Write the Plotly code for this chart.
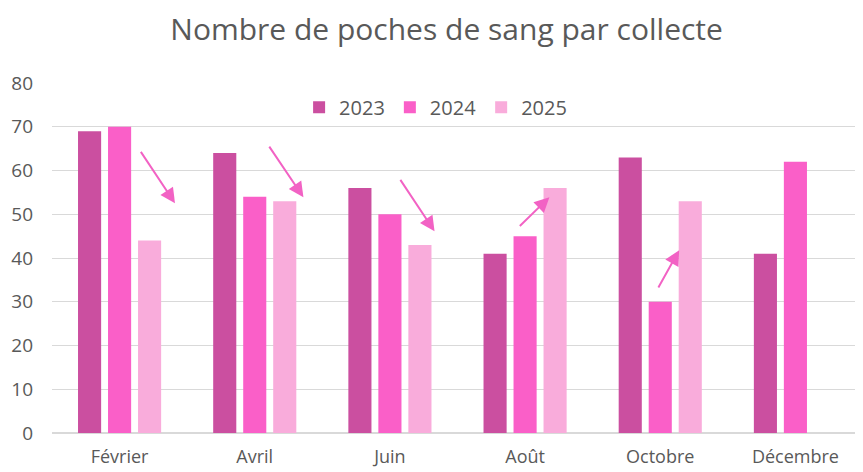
import plotly.graph_objects as go

mois = ["Février", "Avril", "Juin", "Août", "Octobre", "Décembre"]
v2023 = [69, 64, 56, 41, 63, 41]
v2024 = [70, 54, 50, 45, 30, 62]
v2025 = [44, 53, 43, 56, 53, None]
annees = ["2023", "2024", "2025"]
couleurs = ["#CB4FA0", "#FA5FC8", "#F9ACDB"]

# arrows: (tail x index, tail y, head x index, head y)
fleches = [
    (0.15, 64.6, 0.41, 52.5),
    (1.10, 65.8, 1.36, 53.9),
    (2.07, 58.2, 2.33, 46.1),
    (2.95, 47.0, 3.18, 53.9),
    (3.98, 32.9, 4.14, 41.8),
]

font = "Open Sans"
grey = "#595959"

fig = go.Figure()
for name, vals, col in zip(annees, [v2023, v2024, v2025], couleurs):
    fig.add_trace(go.Bar(x=mois, y=vals, name=name, marker_color=col, marker_line_width=0))

for tx, ty, hx, hy in fleches:
    fig.add_annotation(x=hx, y=hy, ax=tx, ay=ty, xref="x", yref="y", axref="x", ayref="y",
                       showarrow=True, arrowhead=2, arrowsize=1.5, arrowwidth=2,
                       arrowcolor="#F262C4", text="")

fig.update_layout(
    width=855, height=464,
    margin=dict(l=44, r=0, t=75, b=39),
    paper_bgcolor="white", plot_bgcolor="white",
    barmode="group", bargap=0.334, bargroupgap=0.23,
    title=dict(text="Nombre de poches de sang par collecte", x=0.513, xref="container",
               y=0.953, yref="container", xanchor="center", yanchor="middle",
               font=dict(family=font, size=30, color=grey)),
    legend=dict(orientation="h", x=0.473, xanchor="center", y=0.931, yanchor="middle",
                font=dict(family=font, size=20, color=grey), bgcolor="rgba(255,255,255,0)",
                itemwidth=30, traceorder="normal"),
    font=dict(family=font, color=grey),
)
fig.update_yaxes(range=[0, 80], dtick=10, showgrid=True, gridcolor="#D9D9D9", gridwidth=1,
                 zeroline=True, zerolinecolor="#D9D9D9", showline=False, automargin=False,
                 tickfont=dict(family=font, size=19, color=grey), ticklabelstandoff=18)
fig.update_xaxes(showline=False, showgrid=False, automargin=False,
                 tickfont=dict(family=font, size=18, color=grey), ticklabelstandoff=11)

fig.write_html("out.html")
